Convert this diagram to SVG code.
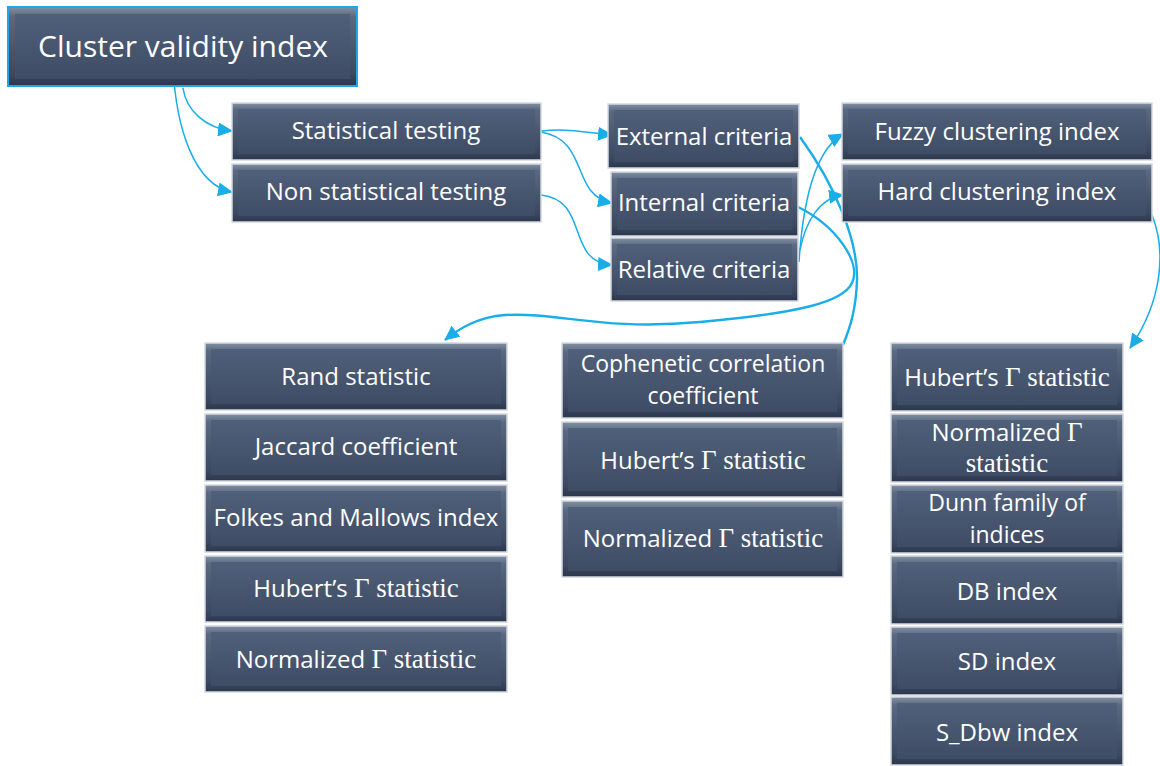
<svg xmlns="http://www.w3.org/2000/svg" width="1160" height="766" viewBox="0 0 1160 766">
<style>
.frame{fill:url(#gFrame);stroke:#d3d9e1;stroke-width:1.5}
.face{fill:url(#gFace)}
.cvi{stroke:#1ea7e0;stroke-width:2}
.t{font-family:"Open Sans","Noto Sans",sans-serif;font-size:24px;fill:#ffffff;text-anchor:middle}
.two{font-size:23px}
.big{font-size:30px}
.g{font-family:"Liberation Serif",serif;font-size:27px}
.c{fill:none;stroke:#1aaee8;stroke-width:1.5}
.c2{fill:none;stroke:#1aaee8;stroke-width:2.4}
</style>
<defs>
<linearGradient id="gFrame" x1="0" y1="0" x2="0" y2="1">
<stop offset="0" stop-color="#8290a4"/>
<stop offset="0.12" stop-color="#5a697f"/>
<stop offset="0.85" stop-color="#3a4860"/>
<stop offset="1" stop-color="#2b374b"/>
</linearGradient>
<linearGradient id="gFace" x1="0" y1="0" x2="0" y2="1">
<stop offset="0" stop-color="#51607a"/>
<stop offset="1" stop-color="#3e4c65"/>
</linearGradient>
<marker id="ah" markerUnits="userSpaceOnUse" markerWidth="16" markerHeight="14" refX="14" refY="7" orient="auto">
<path d="M0,0 L15,7 L0,14 z" fill="#1aaee8"/>
</marker>
</defs>

<g id="connectors">
<path class="c" d="M183,88 C186,110 205,128 232,131" marker-end="url(#ah)"/>
<path class="c" d="M173,66 C176,130 195,185 232,192" marker-end="url(#ah)"/>
<path class="c" d="M541,131 C570,128 590,133 612,135" marker-end="url(#ah)"/>
<path class="c" d="M541,132 C590,140 570,195 612,203" marker-end="url(#ah)"/>
<path class="c" d="M541,195 C590,200 565,262 612,265" marker-end="url(#ah)"/>
<path class="c" d="M799,262 C803,200 815,150 843,134" marker-end="url(#ah)"/>
<path class="c" d="M800,250 C806,220 820,198 843,195" marker-end="url(#ah)"/>
<path class="c2" d="M800,137 C835,185 858,240 857,280 C856,310 850,328 843,345"/>
<path class="c2" d="M798,207 C835,225 862,262 852,283 C843,302 800,313 700,322 C600,331 560,312 505,315 C478,317 460,328 445,340" marker-end="url(#ah)"/>
<path class="c" d="M1152,215 C1166,250 1163,300 1130,348" marker-end="url(#ah)"/>
</g>

<g id="n-cvi"><rect class="frame cvi" x="8" y="7" width="349" height="79"/><rect class="face" x="15" y="14" width="335" height="65"/><text class="t big" x="183" y="57">Cluster validity index</text></g>
<g id="n-st"><rect class="frame" x="232" y="103" width="309" height="57"/><rect class="face" x="238" y="109" width="297" height="45"/><text class="t" x="386" y="139">Statistical testing</text></g>
<g id="n-nst"><rect class="frame" x="232" y="164" width="309" height="58"/><rect class="face" x="238" y="170" width="297" height="46"/><text class="t" x="386" y="200">Non statistical testing</text></g>
<g id="n-ext"><rect class="frame" x="608" y="104" width="191" height="64"/><rect class="face" x="614" y="110" width="179" height="52"/><text class="t" x="704" y="145">External criteria</text></g>
<g id="n-int"><rect class="frame" x="611" y="172" width="187" height="64"/><rect class="face" x="617" y="178" width="175" height="52"/><text class="t" x="704" y="211">Internal criteria</text></g>
<g id="n-rel"><rect class="frame" x="611" y="238" width="187" height="63"/><rect class="face" x="617" y="244" width="175" height="51"/><text class="t" x="704" y="278">Relative criteria</text></g>
<g id="n-fuzzy"><rect class="frame" x="842" y="103" width="310" height="57"/><rect class="face" x="848" y="109" width="298" height="45"/><text class="t" x="997" y="140">Fuzzy clustering index</text></g>
<g id="n-hard"><rect class="frame" x="842" y="164" width="310" height="58"/><rect class="face" x="848" y="170" width="298" height="46"/><text class="t" x="997" y="200">Hard clustering index</text></g>

<g id="n-rand"><rect class="frame" x="205" y="343" width="302" height="67"/><rect class="face" x="211" y="349" width="290" height="55"/><text class="t" x="356" y="385">Rand statistic</text></g>
<g id="n-jacc"><rect class="frame" x="205" y="414" width="302" height="67"/><rect class="face" x="211" y="420" width="290" height="55"/><text class="t" x="356" y="455">Jaccard coefficient</text></g>
<g id="n-fm"><rect class="frame" x="205" y="485" width="302" height="67"/><rect class="face" x="211" y="491" width="290" height="55"/><text class="t" x="356" y="526">Folkes and Mallows index</text></g>
<g id="n-hub1"><rect class="frame" x="205" y="556" width="302" height="66"/><rect class="face" x="211" y="562" width="290" height="54"/><text class="t" x="356" y="597">Hubert’s <tspan class="g">Γ statistic</tspan></text></g>
<g id="n-norm1"><rect class="frame" x="205" y="626" width="302" height="66"/><rect class="face" x="211" y="632" width="290" height="54"/><text class="t" x="356" y="668">Normalized <tspan class="g">Γ statistic</tspan></text></g>

<g id="n-coph"><rect class="frame" x="562" y="343" width="281" height="75"/><rect class="face" x="568" y="349" width="269" height="63"/><text class="t two" x="703" y="372">Cophenetic correlation</text><text class="t two" x="703" y="404">coefficient</text></g>
<g id="n-hub2"><rect class="frame" x="562" y="422" width="281" height="75"/><rect class="face" x="568" y="428" width="269" height="63"/><text class="t" x="703" y="469">Hubert’s <tspan class="g">Γ statistic</tspan></text></g>
<g id="n-norm2"><rect class="frame" x="562" y="501" width="281" height="76"/><rect class="face" x="568" y="507" width="269" height="64"/><text class="t" x="703" y="547">Normalized <tspan class="g">Γ statistic</tspan></text></g>

<g id="n-hub3"><rect class="frame" x="891" y="343" width="232" height="68"/><rect class="face" x="897" y="349" width="220" height="56"/><text class="t" x="1007" y="386">Hubert’s <tspan class="g">Γ statistic</tspan></text></g>
<g id="n-norm3"><rect class="frame" x="891" y="414" width="232" height="68"/><rect class="face" x="897" y="420" width="220" height="56"/><text class="t" x="1007" y="441">Normalized <tspan class="g">Γ</tspan></text><text class="t g" x="1007" y="472">statistic</text></g>
<g id="n-dunn"><rect class="frame" x="891" y="485" width="232" height="68"/><rect class="face" x="897" y="491" width="220" height="56"/><text class="t two" x="1007" y="511">Dunn family of</text><text class="t two" x="1007" y="543">indices</text></g>
<g id="n-db"><rect class="frame" x="891" y="556" width="232" height="68"/><rect class="face" x="897" y="562" width="220" height="56"/><text class="t" x="1007" y="600">DB index</text></g>
<g id="n-sd"><rect class="frame" x="891" y="627" width="232" height="68"/><rect class="face" x="897" y="633" width="220" height="56"/><text class="t" x="1007" y="670">SD index</text></g>
<g id="n-sdbw"><rect class="frame" x="891" y="697" width="232" height="68"/><rect class="face" x="897" y="703" width="220" height="56"/><text class="t" x="1007" y="741">S_Dbw index</text></g>
</svg>
